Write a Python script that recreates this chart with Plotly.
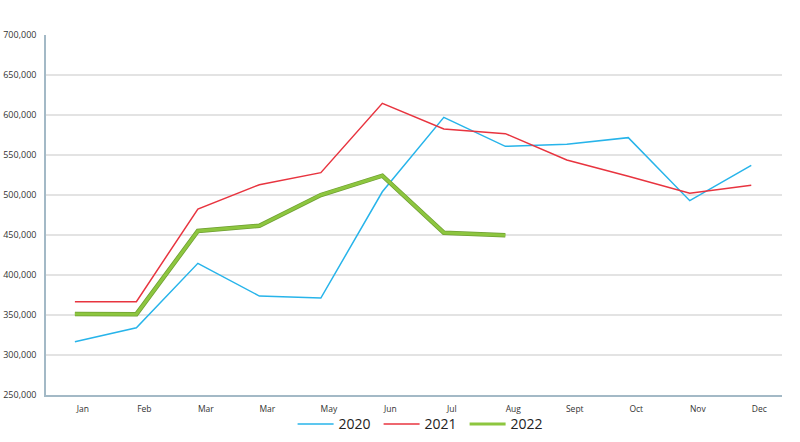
import plotly.graph_objects as go

months = ["Jan", "Feb", "Mar", "Mar", "May", "Jun", "Jul", "Aug", "Sept", "Oct", "Nov", "Dec"]
y2020 = [316600, 334100, 414600, 373700, 371200, 504000, 597100, 560800, 563300, 571700, 492900, 537100]
y2021 = [366700, 366700, 482500, 512900, 527900, 614600, 582500, 576700, 543700, 523500, 502100, 512100]
y2022 = [351200, 351000, 455000, 461600, 500000, 524100, 452900, 449600]
ytick_vals = [250000, 300000, 350000, 400000, 450000, 500000, 550000, 600000, 650000, 700000]

idx = list(range(len(months)))

fig = go.Figure()
fig.add_trace(go.Scatter(x=idx, y=y2020, mode="lines", name="2020",
                         line=dict(color="#27B4EA", width=1.5)))
fig.add_trace(go.Scatter(x=idx, y=y2021, mode="lines", name="2021",
                         line=dict(color="#E8343F", width=1.5)))
fig.add_trace(go.Scatter(x=idx[:len(y2022)], y=y2022, mode="lines", name="2022",
                         line=dict(color="#6E9E32", width=4.5), showlegend=False,
                         hoverinfo="skip"))
fig.add_trace(go.Scatter(x=idx[:len(y2022)], y=y2022, mode="lines", name="2022",
                         line=dict(color="#8DC63F", width=3)))

fig.update_layout(
    width=800, height=442,
    margin=dict(l=46, r=18, t=35, b=47, autoexpand=False),
    paper_bgcolor="white", plot_bgcolor="white",
    font=dict(family="Open Sans, sans-serif", color="#333333"),
    showlegend=True,
    legend=dict(orientation="h", x=0.527, xanchor="center", xref="container",
                y=0.04, yanchor="middle", yref="container",
                bgcolor="rgba(0,0,0,0)",
                font=dict(size=14, color="#222222"), itemwidth=36,
                entrywidth=35, entrywidthmode="pixels",
                tracegroupgap=0),
    xaxis=dict(range=[-0.47, 11.5], tickmode="array",
               tickvals=[i + 0.13 for i in idx], ticktext=months,
               showgrid=False, zeroline=False, showline=True, automargin=False,
               linecolor="#A3B9C6", linewidth=1.5, ticks="",
               tickfont=dict(size=8.5, color="#333333"), ticklabelstandoff=5),
    yaxis=dict(range=[250000, 700000], tickmode="array", tickvals=ytick_vals,
               tickformat=",", showgrid=True, gridcolor="#E3E3E3", gridwidth=1.5,
               zeroline=False, showline=True, linecolor="#A3B9C6", linewidth=1.5,
               automargin=False,
               ticks="", tickfont=dict(size=9, color="#333333"), ticklabelstandoff=6),
)

fig.write_html("out.html", config={"displayModeBar": False},
               post_script="document.body.style.margin='0';")
